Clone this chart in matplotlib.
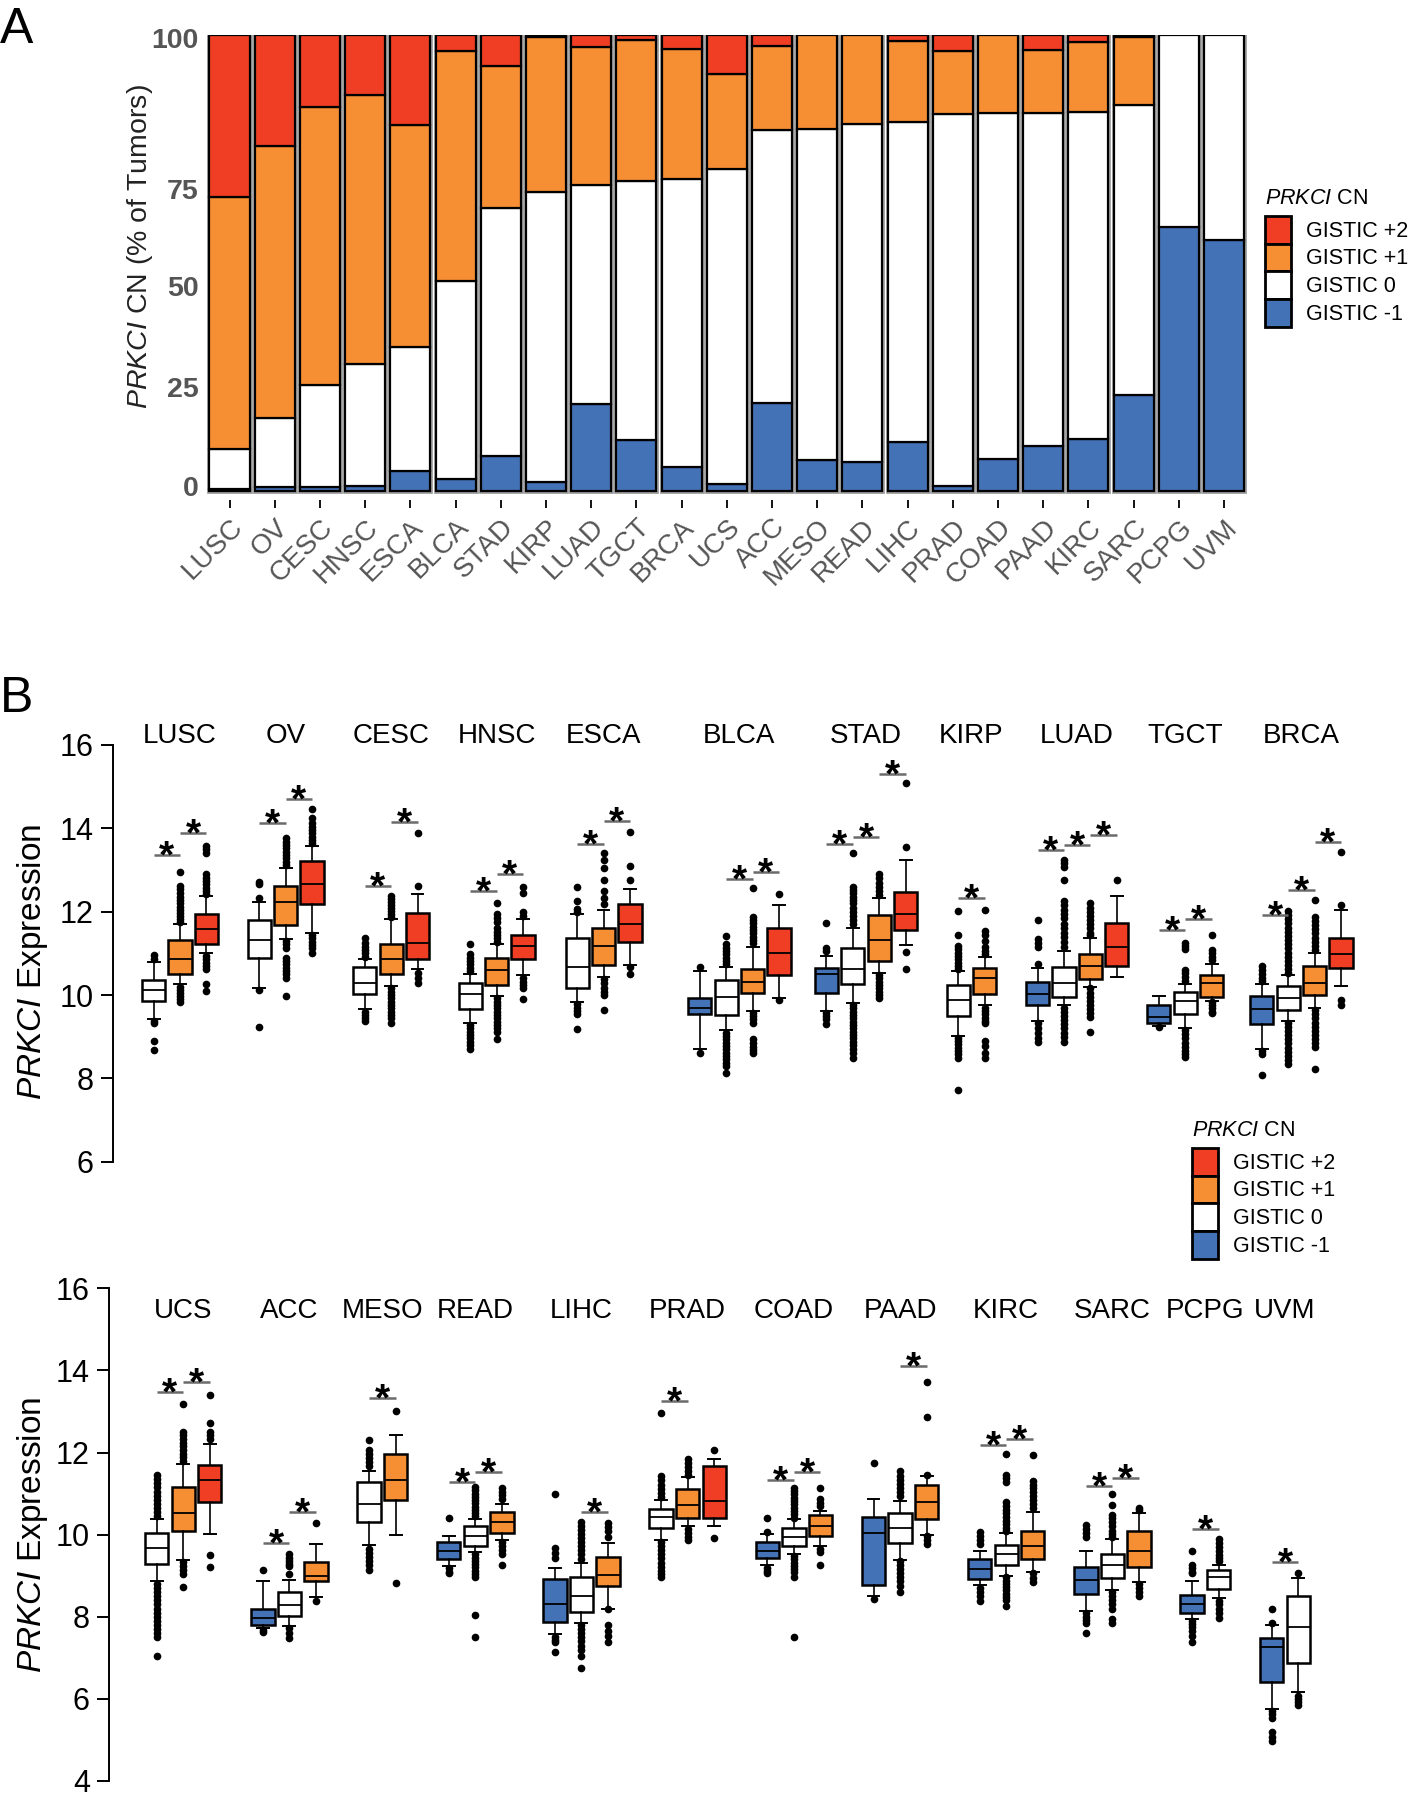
import numpy as np
import matplotlib
matplotlib.use('Agg')
import matplotlib.pyplot as plt
import matplotlib.patches as mpatches

plt.rcParams['font.family'] = ['Liberation Sans', 'DejaVu Sans']
plt.rcParams['mathtext.fontset'] = 'custom'
plt.rcParams['mathtext.it'] = 'Liberation Sans:italic'
plt.rcParams['mathtext.rm'] = 'Liberation Sans'

# ---------------- panel A data (percent of tumours) ----------------
cancers_a = ['LUSC', 'OV', 'CESC', 'HNSC', 'ESCA', 'BLCA', 'STAD', 'KIRP', 'LUAD', 'TGCT', 'BRCA', 'UCS',
             'ACC', 'MESO', 'READ', 'LIHC', 'PRAD', 'COAD', 'PAAD', 'KIRC', 'SARC', 'PCPG', 'UVM']
pct_m1 = [0.4, 0.9, 0.9, 1.1, 4.3, 2.6, 7.7, 2.0, 19.0, 11.2, 5.3, 1.6,
          19.4, 6.8, 6.3, 10.7, 1.0, 7.0, 9.8, 11.5, 21.1, 57.9, 55.1]
pct_0 = [8.8, 15.0, 22.4, 26.7, 27.2, 43.4, 54.4, 63.6, 48.2, 56.8, 63.2, 69.1,
         59.7, 72.5, 74.2, 70.2, 81.6, 75.8, 73.2, 71.7, 63.5, 42.1, 44.9]
pct_p1 = [55.2, 59.7, 60.9, 59.0, 48.8, 50.6, 31.2, 33.9, 30.1, 30.8, 28.5, 20.7,
          18.4, 20.7, 19.5, 17.8, 14.0, 17.2, 13.7, 15.3, 15.0, 0, 0]
pct_p2 = [35.6, 24.4, 15.8, 13.2, 19.7, 3.4, 6.7, 0.5, 2.7, 1.2, 3.0, 8.6,
          2.5, 0, 0, 1.3, 3.4, 0, 3.3, 1.5, 0.4, 0, 0]
ytick_pos_a = [1.1, 22.8, 45.0, 66.2, 99.3]
ytick_lab_a = ['0', '25', '50', '75', '100']

# ---------------- panel B, top row ----------------
top_names = ['LUSC', 'OV', 'CESC', 'HNSC', 'ESCA', 'BLCA', 'STAD', 'KIRP', 'LUAD', 'TGCT', 'BRCA']
top_cn = [[0, 1, 2], [0, 1, 2], [0, 1, 2], [0, 1, 2], [0, 1, 2], [-1, 0, 1, 2], [-1, 0, 1, 2],
          [0, 1], [-1, 0, 1, 2], [-1, 0, 1], [-1, 0, 1, 2]]
# (whisker low, q1, median, q3, whisker high)
top_box = [
    [(9.43, 9.86, 10.11, 10.35, 10.8), (10.26, 10.51, 10.86, 11.31, 11.7), (11.0, 11.22, 11.58, 11.94, 12.38)],
    [(10.16, 10.9, 11.32, 11.8, 12.23), (11.35, 11.67, 12.23, 12.62, 13.06), (11.5, 12.18, 12.66, 13.22, 13.58)],
    [(9.67, 10.02, 10.3, 10.68, 10.86), (10.22, 10.5, 10.86, 11.23, 11.82), (10.62, 10.87, 11.24, 11.98, 12.42)],
    [(9.34, 9.66, 10.02, 10.28, 10.5), (9.98, 10.23, 10.59, 10.9, 11.22), (10.47, 10.86, 11.18, 11.43, 11.82)],
    [(9.83, 10.16, 10.68, 11.36, 11.95), (10.44, 10.72, 11.18, 11.62, 12.03), (10.71, 11.28, 11.71, 12.18, 12.54)],
    [(8.7, 9.54, 9.7, 9.94, 10.58), (9.16, 9.52, 9.95, 10.35, 10.68), (9.62, 10.04, 10.32, 10.63, 11.15),
     (9.94, 10.47, 11.0, 11.62, 12.17)],
    [(9.62, 10.04, 10.5, 10.66, 10.94), (9.82, 10.26, 10.63, 11.14, 11.62), (10.54, 10.82, 11.31, 11.91, 12.34),
     (11.2, 11.56, 11.94, 12.48, 13.24)],
    [(9.02, 9.5, 9.87, 10.23, 10.58), (9.75, 10.02, 10.42, 10.66, 10.91)],
    [(9.38, 9.77, 10.02, 10.32, 10.64), (9.75, 9.96, 10.29, 10.68, 11.05), (10.2, 10.38, 10.7, 10.99, 11.38),
     (10.43, 10.7, 11.16, 11.73, 12.37)],
    [(9.25, 9.34, 9.47, 9.77, 9.97), (9.2, 9.54, 9.86, 10.08, 10.27), (9.86, 9.95, 10.29, 10.47, 10.75)],
    [(8.7, 9.31, 9.66, 9.97, 10.27), (9.38, 9.64, 9.93, 10.22, 10.47), (9.68, 9.99, 10.29, 10.7, 11.02),
     (10.22, 10.64, 10.98, 11.37, 12.04)],
]
top_out = [
    [[10.95, 10.87, 9.38, 9.32, 8.9, 8.68],
     [11.75, 11.82, 11.9, 11.98, 12.05, 12.12, 12.2, 12.28, 12.36, 12.45, 12.55, 12.62, 12.95,
      10.2, 10.12, 10.05, 9.98, 9.9, 9.83],
     [12.42, 12.5, 12.58, 12.66, 12.74, 12.82, 12.9, 13.42, 13.5, 13.58,
      10.94, 10.86, 10.78, 10.7, 10.62, 10.26, 10.1]],
    [[12.34, 12.66, 12.72, 10.12, 9.23],
     [13.12, 13.2, 13.28, 13.36, 13.44, 13.52, 13.6, 13.68, 13.76,
      11.3, 11.22, 11.14, 10.9, 10.82, 10.74, 10.66, 10.58, 10.5, 10.42, 9.98],
     [13.64, 13.72, 13.8, 13.88, 13.96, 14.04, 14.14, 14.24, 14.46, 11.44, 11.36, 11.28, 11.2, 11.12, 11.0]],
    [[10.92, 11.0, 11.08, 11.16, 11.24, 11.36, 9.6, 9.52, 9.45, 9.38],
     [11.88, 11.95, 12.02, 12.09, 12.16, 12.23, 12.3, 12.37,
      10.16, 10.08, 10.0, 9.92, 9.84, 9.76, 9.68, 9.6, 9.52, 9.44, 9.34],
     [12.62, 13.9, 10.54, 10.42, 10.3]],
    [[11.22, 10.98, 10.9, 10.82, 10.74, 10.66, 10.58, 9.28, 9.2, 9.12, 9.04, 8.96, 8.88, 8.8, 8.7],
     [11.28, 11.36, 11.44, 11.52, 11.6, 11.75, 11.85, 11.95, 12.2,
      9.92, 9.84, 9.76, 9.68, 9.6, 9.52, 9.44, 9.36, 9.28, 9.2, 9.12, 8.94],
     [11.9, 12.0, 12.45, 12.6, 10.4, 10.32, 10.24, 10.16, 9.9]],
    [[12.0, 12.07, 12.26, 12.6, 9.78, 9.7, 9.62, 9.54, 9.19],
     [12.18, 12.34, 12.5, 12.76, 13.05, 13.25, 13.4, 10.38, 10.28, 10.18, 10.08, 10.0, 9.63],
     [12.76, 13.1, 13.91, 10.68, 10.5]],
    [[10.68, 8.62],
     [11.42, 11.22, 11.14, 11.06, 10.98, 10.9, 10.82, 10.74,
      9.1, 9.02, 8.94, 8.86, 8.78, 8.7, 8.62, 8.54, 8.46, 8.38, 8.3, 8.12],
     [12.56, 11.88, 11.8, 11.72, 11.64, 11.56, 11.48, 11.4, 11.32, 11.24,
      9.58, 9.5, 9.42, 9.34, 8.95, 8.86, 8.76, 8.68, 8.6],
     [12.43, 9.88]],
    [[11.72, 11.14, 11.06, 9.58, 9.5, 9.42, 9.3],
     [13.4, 12.6, 12.52, 12.44, 12.36, 12.28, 12.2, 12.1, 12.0, 11.9, 11.8, 11.7,
      9.76, 9.68, 9.6, 9.52, 9.44, 9.36, 9.28, 9.2, 9.12, 9.04, 8.96, 8.88, 8.8, 8.7, 8.6, 8.5],
     [12.9, 12.8, 12.7, 12.6, 12.5, 12.4, 10.48, 10.4, 10.32, 10.24, 10.16, 10.08, 10.0, 9.94],
     [15.08, 13.55, 11.04, 10.63]],
    [[12.02, 11.43, 11.18, 11.1, 11.02, 10.94, 10.86, 10.78, 10.7, 10.62,
      8.98, 8.9, 8.82, 8.74, 8.66, 8.58, 8.5, 7.71],
     [12.03, 11.54, 11.45, 11.3, 11.15, 11.05, 10.98, 9.7, 9.62, 9.54, 9.46, 9.38, 9.34, 8.9, 8.78, 8.6, 8.5]],
    [[11.79, 11.34, 11.26, 11.16, 10.75, 9.34, 9.22, 9.1, 8.98, 8.88],
     [13.25, 13.16, 13.07, 12.75, 12.25, 12.15, 12.05, 11.95, 11.85, 11.7, 11.6, 11.5, 11.4, 11.28, 11.16,
      9.7, 9.6, 9.5, 9.4, 9.3, 9.2, 9.1, 9.0, 8.88],
     [12.2, 12.1, 12.0, 11.9, 11.8, 11.7, 11.6, 11.5, 11.43,
      10.16, 10.06, 9.96, 9.86, 9.76, 9.66, 9.56, 9.47, 9.11],
     [12.77]],
    [[9.23],
     [11.25, 11.18, 11.11, 10.6, 10.52, 10.44, 10.34, 9.16, 9.06, 8.96, 8.86, 8.76, 8.66, 8.58, 8.52],
     [11.45, 11.08, 11.0, 10.92, 10.84, 9.84, 9.76, 9.68, 9.6, 9.57]],
    [[10.7, 10.6, 10.5, 10.42, 10.34, 8.66, 8.58, 8.07],
     [12.02, 11.92, 11.82, 11.72, 11.62, 11.52, 11.42, 11.32, 11.22, 11.12, 11.02, 10.92, 10.82, 10.72,
      10.62, 10.52, 9.34, 9.24, 9.14, 9.04, 8.94, 8.84, 8.74, 8.64, 8.54, 8.44, 8.34],
     [12.29, 11.88, 11.78, 11.68, 11.58, 11.48, 11.38, 11.28, 11.18, 11.08,
      9.64, 9.54, 9.44, 9.34, 9.24, 9.14, 9.04, 8.94, 8.84, 8.75, 8.23],
     [13.43, 12.16, 9.88, 9.75]],
]
# (index of left box of the compared pair, height of the bar)
top_sig = [[(0, 13.35), (1, 13.9)], [(0, 14.14), (1, 14.71)], [(0, 12.62), (1, 14.16)],
           [(0, 12.5), (1, 12.9)], [(0, 13.63), (1, 14.18)], [(1, 12.78), (2, 12.95)],
           [(0, 13.62), (1, 13.79), (2, 15.31)], [(0, 12.34)],
           [(0, 13.47), (1, 13.61), (2, 13.84)], [(0, 11.57), (1, 11.82)],
           [(0, 11.93), (1, 12.52), (2, 13.67)]]

# ---------------- panel B, bottom row ----------------
bot_names = ['UCS', 'ACC', 'MESO', 'READ', 'LIHC', 'PRAD', 'COAD', 'PAAD', 'KIRC', 'SARC', 'PCPG', 'UVM']
bot_cn = [[0, 1, 2], [-1, 0, 1], [0, 1], [-1, 0, 1], [-1, 0, 1], [0, 1, 2], [-1, 0, 1], [-1, 0, 1],
          [-1, 0, 1], [-1, 0, 1], [-1, 0], [-1, 0]]
bot_box = [
    [(8.87, 9.29, 9.67, 10.05, 10.38), (9.38, 10.09, 10.52, 11.16, 11.71), (10.01, 10.79, 11.33, 11.69, 12.22)],
    [(7.72, 7.8, 7.97, 8.2, 8.87), (7.77, 8.03, 8.28, 8.6, 8.89), (8.49, 8.87, 9.0, 9.33, 9.78)],
    [(9.76, 10.31, 10.74, 11.29, 11.54), (9.99, 10.85, 11.32, 11.96, 12.43)],
    [(9.23, 9.41, 9.61, 9.82, 9.96), (9.57, 9.72, 9.96, 10.2, 10.38), (9.88, 10.05, 10.32, 10.56, 10.74)],
    [(7.57, 7.87, 8.3, 8.92, 9.19), (7.84, 8.11, 8.5, 8.98, 9.31), (8.2, 8.75, 9.02, 9.46, 9.79)],
    [(9.88, 10.15, 10.43, 10.63, 10.85), (10.2, 10.41, 10.72, 11.1, 11.4), (10.22, 10.41, 10.83, 11.68, 11.85)],
    [(9.25, 9.44, 9.61, 9.82, 10.01), (9.54, 9.72, 9.94, 10.17, 10.38), (9.73, 9.97, 10.2, 10.47, 10.58)],
    [(8.5, 8.78, 10.05, 10.43, 10.87), (9.38, 9.79, 10.15, 10.53, 10.81), (10.0, 10.39, 10.79, 11.22, 11.42)],
    [(8.77, 8.91, 9.17, 9.41, 9.61), (9.0, 9.25, 9.52, 9.76, 10.05), (9.09, 9.41, 9.73, 10.09, 10.56)],
    [(8.14, 8.56, 8.89, 9.21, 9.61), (8.66, 8.94, 9.25, 9.54, 9.9), (8.85, 9.2, 9.59, 10.09, 10.52)],
    [(7.94, 8.09, 8.3, 8.53, 8.88), (8.45, 8.68, 8.98, 9.15, 9.27)],
    [(5.76, 6.41, 7.27, 7.48, 7.8), (6.16, 6.87, 7.76, 8.51, 8.94)],
]
bot_out = [
    [[10.45, 10.55, 10.65, 10.75, 10.85, 10.95, 11.05, 11.15, 11.25, 11.35, 11.45,
      8.8, 8.7, 8.6, 8.5, 8.4, 8.3, 8.2, 8.1, 8.0, 7.9, 7.8, 7.7, 7.6, 7.5, 7.04],
     [13.18, 12.51, 12.42, 12.33, 12.24, 12.15, 12.06, 11.97, 11.88, 11.79, 9.34, 9.24, 9.14, 9.04, 8.72],
     [13.39, 12.72, 12.51, 12.42, 12.34, 9.51, 9.21]],
    [[9.13, 7.67, 7.63], [9.52, 9.44, 9.36, 9.28, 9.23, 9.04, 7.72, 7.6, 7.49], [10.28, 8.39]],
    [[12.3, 12.06, 11.96, 11.86, 11.76, 11.67, 9.65, 9.55, 9.45, 9.35, 9.25, 9.15], [13.0, 8.83]],
    [[10.41, 9.19, 9.1, 9.06],
     [11.16, 11.08, 11.0, 10.92, 10.84, 10.76, 10.68, 10.6, 10.52, 10.45,
      9.52, 9.44, 9.36, 9.28, 9.2, 9.12, 9.04, 8.98, 8.04, 7.51],
     [11.14, 11.05, 10.96, 10.87, 9.82, 9.72, 9.62, 9.52, 9.27]],
    [[11.0, 9.67, 9.55, 9.44, 7.5, 7.44, 7.38, 7.14],
     [10.32, 10.22, 10.12, 10.02, 9.92, 9.82, 9.72, 9.62, 9.52, 9.4,
      7.8, 7.7, 7.6, 7.5, 7.4, 7.3, 7.2, 7.04, 6.75],
     [10.28, 10.18, 10.08, 9.94, 8.18, 7.8, 7.66, 7.52, 7.38]],
    [[12.97, 11.42, 11.32, 11.22, 11.12, 11.02, 10.91, 9.82, 9.72, 9.62, 9.52, 9.42, 9.32, 9.22, 9.12, 9.05, 8.98],
     [11.84, 11.74, 11.64, 11.54, 11.46, 10.13, 10.04, 9.95, 9.86],
     [12.06, 9.93]],
    [[10.41, 10.07, 9.19, 9.12, 9.06],
     [11.14, 11.06, 10.98, 10.9, 10.82, 10.74, 10.66, 10.58, 10.5, 10.41,
      9.48, 9.4, 9.32, 9.24, 9.16, 9.08, 8.98, 7.51],
     [11.14, 10.87, 10.78, 10.7, 9.65, 9.57, 9.27]],
    [[11.74, 8.43],
     [11.54, 11.44, 11.34, 11.24, 11.14, 11.04, 10.94, 9.36, 9.26, 9.16, 9.06, 8.96, 8.86, 8.76, 8.6],
     [13.73, 12.86, 11.46, 9.96, 9.86, 9.78]],
    [[10.07, 9.97, 9.87, 9.77, 8.7, 8.6, 8.5, 8.39],
     [11.96, 11.46, 11.38, 11.29, 10.79, 10.7, 10.61, 10.52, 10.43, 10.34, 10.25, 10.16, 10.08,
      8.96, 8.88, 8.8, 8.72, 8.64, 8.56, 8.48, 8.4, 8.26],
     [11.95, 11.31, 11.22, 11.13, 11.04, 10.95, 10.84, 10.75, 10.66, 9.06, 8.95, 8.85]],
    [[10.24, 10.14, 10.04, 9.94, 8.09, 8.0, 7.92, 7.84, 7.61],
     [11.0, 10.72, 10.49, 10.4, 10.3, 10.2, 10.1, 10.02, 9.94, 8.6, 8.5, 8.4, 8.3, 8.2, 7.95, 7.85],
     [10.66, 10.6, 8.81, 8.7, 8.6, 8.51]],
    [[9.61, 9.27, 9.18, 9.1, 9.06, 7.9, 7.82, 7.74, 7.66, 7.52, 7.38],
     [9.9, 9.8, 9.7, 9.6, 9.5, 9.42, 9.35, 8.39, 8.3, 8.2, 8.1, 7.97]],
    [[8.18, 7.85, 5.71, 5.62, 5.53, 5.19, 5.08, 4.98],
     [9.06, 6.08, 6.0, 5.92, 5.84]],
]
bot_sig = [[(0, 13.48), (1, 13.71)], [(0, 9.79), (1, 10.56)], [(0, 13.33)], [(0, 11.29), (1, 11.52)],
           [(1, 10.55)], [(0, 13.25)], [(0, 11.33), (1, 11.52)], [(1, 14.11)],
           [(0, 12.19), (1, 12.34)], [(0, 11.18), (1, 11.39)], [(0, 10.13)], [(0, 9.33)]]

# ---------------- style / layout ----------------
COLORS = {2: '#EF3E23', 1: '#F68E33', 0: '#FFFFFF', -1: '#4472B7'}
CN_LABELS = {2: 'GISTIC +2', 1: 'GISTIC +1', 0: 'GISTIC 0', -1: 'GISTIC -1'}
top_start = [0, 4, 8, 12, 16.05, 20.7, 25.5, 30.5, 33.5, 38.1, 42.0]
bot_start = [0, 4, 8, 11, 15, 19, 23, 27, 31, 35, 39, 42]

W, H = 1409, 1800
fig = plt.figure(figsize=(W / 100, H / 100), dpi=100)


def px_axes(left, top, right, bottom):
    return fig.add_axes([left / W, 1 - bottom / H, (right - left) / W, (bottom - top) / H])


def cn_legend(x_px, y_px):
    handles = [mpatches.Patch(facecolor=COLORS[c], edgecolor='black', linewidth=2)
               for c in (2, 1, 0, -1)]
    labels = [CN_LABELS[c] for c in (2, 1, 0, -1)]
    leg = fig.legend(handles, labels, loc='upper left', bbox_to_anchor=(x_px / W, 1 - y_px / H),
                     bbox_transform=fig.transFigure, frameon=False, fontsize=15.5,
                     title=r'$\it{PRKCI}$ CN', title_fontsize=15.5, alignment='left',
                     handlelength=1.2, handleheight=1.6, labelspacing=0.0,
                     handletextpad=0.7, borderpad=0, borderaxespad=0)
    leg._legend_box.sep = 5


# ---------------- panel A ----------------
ax = px_axes(206.9, 35, 1246.6, 500.1)
x = np.arange(len(cancers_a))
bw = 0.885
ax.bar(x, 100, width=bw, facecolor='none', edgecolor='#9a9a9a', linewidth=3.4, zorder=1)
bottom = np.zeros(len(x))
for vals, c in [(pct_m1, -1), (pct_0, 0), (pct_p1, 1), (pct_p2, 2)]:
    vals = np.array(vals)
    keep = vals > 0
    ax.bar(x[keep], vals[keep], bottom=bottom[keep], width=bw, color=COLORS[c],
           edgecolor='black', linewidth=1.6, zorder=2)
    bottom += vals
ax.set_xlim(-0.5, len(x) - 0.5)
ax.set_ylim(-2, 100)
for s in ax.spines.values():
    s.set_visible(False)
ax.set_yticks(ytick_pos_a)
ax.set_yticklabels(ytick_lab_a, fontsize=20.5, fontweight='bold', color='#555555')
ax.tick_params(axis='y', length=0, pad=6)
ax.set_xticks(x)
ax.set_xticklabels(cancers_a, rotation=45, ha='right', va='top', rotation_mode='anchor',
                   fontsize=20, color='#555555')
ax.tick_params(axis='x', length=6, width=1.3, pad=4)
ax.set_ylabel(r'$\it{PRKCI}$ CN (% of Tumors)', fontsize=20.5, color='#222222')
ax.yaxis.set_label_coords(-0.050, 0.545)
cn_legend(1265, 188)


# ---------------- panel B ----------------
def draw_row(ax, names, starts, cns, boxes, outs, sigs, title_y):
    for g, name in enumerate(names):
        pos = [starts[g] + k for k in range(len(cns[g]))]
        stats = [dict(whislo=b[0], q1=b[1], med=b[2], q3=b[3], whishi=b[4], fliers=o)
                 for b, o in zip(boxes[g], outs[g])]
        art = ax.bxp(stats, positions=pos, widths=0.88, capwidths=0.45, patch_artist=True,
                     manage_ticks=False,
                     boxprops=dict(edgecolor='black', linewidth=1.8),
                     medianprops=dict(color='black', linewidth=1.3),
                     whiskerprops=dict(color='black', linewidth=1.2),
                     capprops=dict(color='black', linewidth=1.4),
                     flierprops=dict(marker='o', markerfacecolor='black', markeredgecolor='black',
                                     markersize=4.5, linestyle='none'))
        for patch, c in zip(art['boxes'], cns[g]):
            patch.set_facecolor(COLORS[c])
        for i, yv in sigs[g]:
            ax.plot([pos[i], pos[i + 1]], [yv, yv], color='#6b6b6b', linewidth=1.8, solid_capstyle='butt')
            ax.annotate('*', xy=((pos[i] + pos[i + 1]) / 2, yv), xytext=(0, -9.0),
                        textcoords='offset points', ha='center', va='baseline',
                        fontsize=28, fontweight='bold')
        ax.text(np.mean(pos), title_y, name, ha='center', va='center', fontsize=20, clip_on=False)


def style_b(ax, lo, hi):
    ax.set_ylim(lo, hi)
    ax.set_yticks(np.arange(lo, hi + 1, 2))
    for side in ('top', 'right', 'bottom'):
        ax.spines[side].set_visible(False)
    ax.spines['left'].set_linewidth(1.4)
    ax.set_xticks([])
    ax.tick_params(axis='y', labelsize=22, length=9, width=1.4, pad=5)
    ax.set_ylabel(r'$\it{PRKCI}$ Expression', fontsize=24)


ax1 = px_axes(113.3, 745, W, 1161.7)
ax1.set_xlim(-1.53, 47.58)
draw_row(ax1, top_names, top_start, top_cn, top_box, top_out, top_sig, 16.22)
style_b(ax1, 6, 16)
ax1.yaxis.set_label_coords(-0.049, 0.48)

ax2 = px_axes(109.3, 1288.3, W, 1781)
ax2.set_xlim(-1.785, 47.17)
draw_row(ax2, bot_names, bot_start, bot_cn, bot_box, bot_out, bot_sig, 15.45)
style_b(ax2, 4, 16)
ax2.yaxis.set_label_coords(-0.046, 0.5)

cn_legend(1192, 1120)

fig.text(0.0, 1 - 43 / H, 'A', fontsize=36, va='baseline')
fig.text(0.0, 1 - 712 / H, 'B', fontsize=36, va='baseline')

fig.savefig('out.png', dpi=100)
